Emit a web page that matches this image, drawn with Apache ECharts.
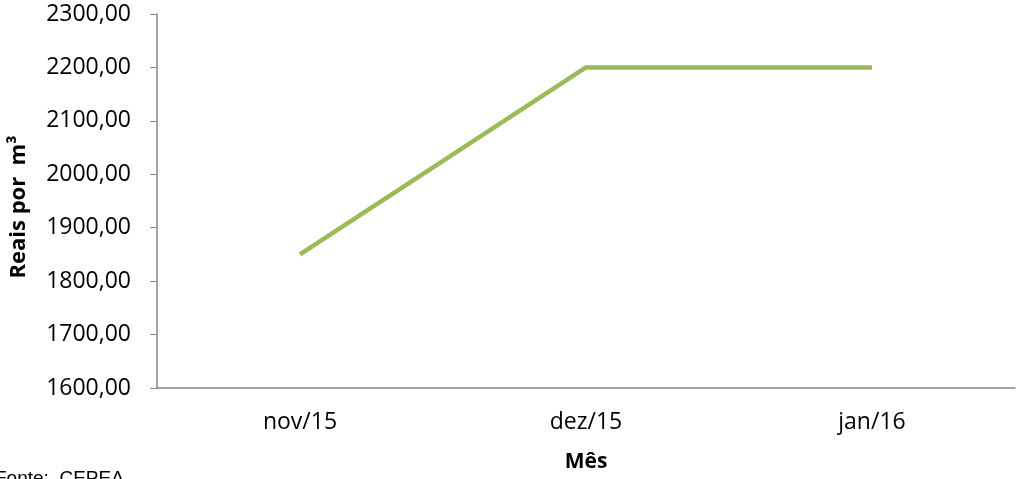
<!DOCTYPE html>
<html>
<head>
<meta charset="utf-8">
<script src="https://cdn.jsdelivr.net/npm/echarts@6/dist/echarts.min.js"></script>
<style>
  html, body { margin: 0; padding: 0; background: #fff; }
  #chart { width: 1017px; height: 479px; }
</style>
</head>
<body>
<div id="chart"></div>
<script>
// dados do gráfico
var meses = ['nov/15', 'dez/15', 'jan/16'];
var precos = [1850, 2200, 2200];

var chart = echarts.init(document.getElementById('chart'));

// formata número com vírgula decimal
function fmt(v) {
  return v.toFixed(2).replace('.', ',');
}

var option = {
  animation: false,
  grid: { left: 154, right: 2, top: 14, bottom: 91 },
  xAxis: {
    type: 'category',
    data: meses,
    boundaryGap: true,
    name: 'Mês',
    nameLocation: 'middle',
    nameGap: 64,
    nameTextStyle: { fontFamily: 'Open Sans', fontWeight: 'bold', fontSize: 21, color: '#000' },
    axisLine: { lineStyle: { color: '#868686', width: 1.5 } },
    axisTick: { show: false },
    axisLabel: { fontFamily: 'Open Sans', fontSize: 23, color: '#000', margin: 23 }
  },
  yAxis: {
    type: 'value',
    min: 1600,
    max: 2300,
    interval: 100,
    name: 'Reais por  m³',
    nameLocation: 'middle',
    nameGap: 127,
    nameTextStyle: { fontFamily: 'Open Sans', fontWeight: 'bold', fontSize: 22, color: '#000', padding: [0, 0, 0, -12] },
    axisLine: { show: true, lineStyle: { color: '#868686', width: 1.5 } },
    axisTick: { show: true, inside: false, length: 7, lineStyle: { color: '#868686' } },
    splitLine: { show: false },
    axisLabel: { fontFamily: 'Open Sans', fontSize: 23, color: '#000', margin: 26, formatter: fmt }
  },
  series: [{
    type: 'line',
    data: precos,
    symbol: 'none',
    lineStyle: { color: '#9bbb59', width: 4.5 }
  }],
  graphic: [{
    type: 'text',
    left: -5,
    top: 469,
    style: { text: 'Fonte:  CEPEA', font: '19px "Liberation Sans"', fill: '#000' }
  }]
};

chart.setOption(option);
</script>
</body>
</html>
